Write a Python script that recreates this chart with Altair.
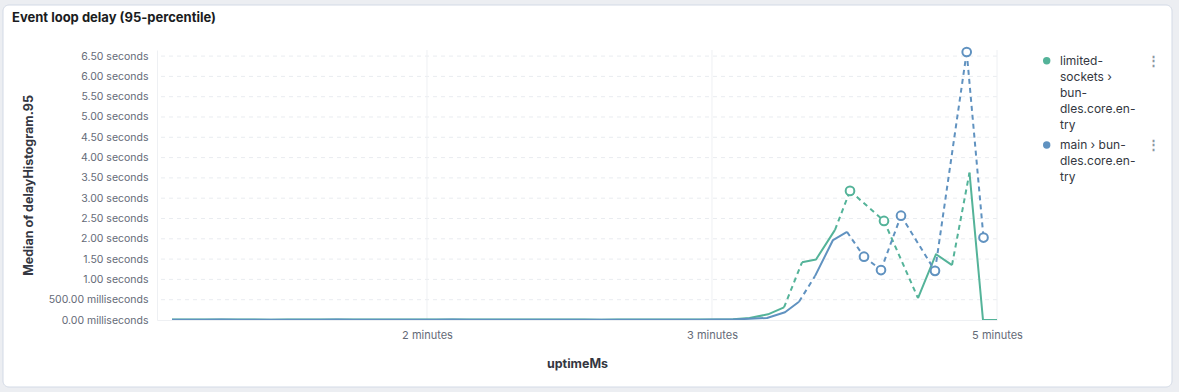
import altair as alt
import pandas as pd

# ---------------- data ----------------
series_names = ["limited-sockets › bundles.core.entry", "main › bundles.core.entry"]
series_colors = ["#54B399", "#6092C0"]

# uptimeMs of the early, almost flat buckets (shared by both series)
flat_x = [38420, 43052, 47684, 52316, 56948, 61580, 66212, 70844, 75476, 80108,
          84740, 89372, 94004, 98636, 103268, 107900, 112532, 117164, 121796, 126428,
          131060, 135692, 140324, 144956, 149588, 154220, 158852, 163484, 168116, 172748,
          177380, 182012, 186644, 191276, 195908, 200540]

green_flat_y = [0.010, 0.010, 0.010, 0.012, 0.010, 0.010, 0.008, 0.010, 0.010, 0.010,
                0.012, 0.010, 0.010, 0.010, 0.010, 0.010, 0.010, 0.012, 0.010, 0.010,
                0.010, 0.010, 0.010, 0.010, 0.010, 0.010, 0.008, 0.010, 0.010, 0.012,
                0.010, 0.010, 0.010, 0.015, 0.020, 0.050]
blue_flat_y = [0.008, 0.008, 0.008, 0.010, 0.008, 0.008, 0.008, 0.008, 0.008, 0.008,
               0.010, 0.008, 0.008, 0.008, 0.008, 0.008, 0.008, 0.010, 0.008, 0.008,
               0.008, 0.008, 0.008, 0.008, 0.008, 0.008, 0.006, 0.008, 0.008, 0.008,
               0.008, 0.008, 0.008, 0.010, 0.012, 0.030]

# later buckets (None = empty bucket -> dashed "fit" line)
green_late_x = [205719, 210210, 212736, 215263, 219192, 224526, 226631, 228736, 233508,
                238280, 243052, 247824, 252876, 257368, 259753, 262280, 266069, 270000]
green_late_y = [0.14, 0.31, None, 1.42, 1.49, 2.22, None, 3.18, None,
                2.44, None, 0.54, 1.62, 1.35, None, 3.63, 0.0, 0.0]

blue_late_x = [205438, 210491, 214420, 216666, 218912, 223964, 227894, 230280, 232666,
               235052, 237438, 240245, 243052, 247824, 252596, 257087, 261494, 263824, 266210]
blue_late_y = [0.05, 0.19, 0.45, None, 1.08, 1.97, 2.17, None, 1.56,
               None, 1.23, None, 2.57, None, 1.21, None, 6.60, None, 2.03]

green_x = flat_x + green_late_x
green_y = green_flat_y + green_late_y
blue_x = flat_x + blue_late_x
blue_y = blue_flat_y + blue_late_y

x_ticks = [110000, 190000, 270000]
y_ticks = [0, 0.5, 1, 1.5, 2, 2.5, 3, 3.5, 4, 4.5, 5, 5.5, 6, 6.5]
y_grid = [0.5, 1, 1.5, 2, 2.5, 3, 3.5, 4, 4.5, 5, 5.5, 6, 6.5]

legend_lines = [["limited-", "sockets ›", "bun-", "dles.core.en-", "try"],
                ["main › bun-", "dles.core.en-", "try"]]

# ---------------- build tables ----------------
def split_series(name, xs, ys):
    solid_rows, dash_rows, dot_rows = [], [], []
    runs, cur = [], []
    for xv, yv in zip(xs, ys):
        if yv is None:
            if cur:
                runs.append(cur)
                cur = []
        else:
            cur.append((xv, yv))
    if cur:
        runs.append(cur)
    for i, run in enumerate(runs):
        if len(run) > 1:
            for xv, yv in run:
                solid_rows.append({"series": name, "seg": f"s{i:02d}", "x": xv, "y": yv})
        else:
            dot_rows.append({"series": name, "x": run[0][0], "y": run[0][1]})
        if i + 1 < len(runs):
            for xv, yv in (run[-1], runs[i + 1][0]):
                dash_rows.append({"series": name, "seg": f"g{i:02d}", "x": xv, "y": yv})
    return pd.DataFrame(solid_rows), pd.DataFrame(dash_rows), pd.DataFrame(dot_rows)

W, H = 840, 270
x_scale = alt.Scale(domain=[34211, 270000], nice=False, zero=False)
y_scale = alt.Scale(domain=[0, 6.65], nice=False, zero=True)

label_grey = "#646a77"
x_axis = alt.Axis(values=x_ticks, labelExpr="round(datum.value/60000) + ' minutes'",
                  ticks=False, grid=False, domainColor="#eef0f3", labelColor=label_grey,
                  labelFontSize=11, labelPadding=9, labelFlush=False, title="uptimeMs",
                  titleFontSize=12.5, titleFontWeight="bold", titleColor="#343741",
                  titlePadding=17, zindex=1)
y_axis = alt.Axis(values=y_ticks,
                  labelExpr="datum.value < 1 ? format(datum.value*1000, '.2f') + ' milliseconds' : format(datum.value, '.2f') + ' seconds'",
                  ticks=False, grid=False, domainColor="#eef0f3", labelColor=label_grey,
                  labelFontSize=10.5, labelPadding=9, title="Median of delayHistogram.95",
                  titleFontSize=12.5, titleFontWeight="bold", titleColor="#343741",
                  titlePadding=13, zindex=1)

X = alt.X("x:Q", scale=x_scale, axis=x_axis)
Y = alt.Y("y:Q", scale=y_scale, axis=y_axis)

ghost = alt.Chart(pd.DataFrame({"a": [0]}))

card = ghost.mark_rect(fill="white", stroke="#d3dae6", strokeWidth=1, cornerRadius=6).encode(
    x=alt.value(-154), x2=alt.value(1015), y=alt.value(-45), y2=alt.value(337))

ygrid = alt.Chart(pd.DataFrame({"y": y_grid})).mark_rule(
    color="#e9ecf0", strokeWidth=1, strokeDash=[4, 4]).encode(y=Y)
xgrid = alt.Chart(pd.DataFrame({"x": x_ticks})).mark_rule(
    color="#eef0f3", strokeWidth=1).encode(x=X)

series_layers = []
for name, xs, ys, col in [(series_names[0], green_x, green_y, series_colors[0]),
                          (series_names[1], blue_x, blue_y, series_colors[1])]:
    s_df, d_df, p_df = split_series(name, xs, ys)
    series_layers.append(alt.Chart(s_df).mark_line(strokeWidth=2, strokeJoin="round", color=col).encode(
        x=X, y=Y, detail="seg:N", order="x:Q"))
    series_layers.append(alt.Chart(d_df).mark_line(strokeWidth=2, strokeDash=[5, 4], color=col).encode(
        x=X, y=Y, detail="seg:N", order="x:Q"))
    series_layers.append(alt.Chart(p_df).mark_point(shape="circle", filled=False, fill="white",
                                                    fillOpacity=1, opacity=1, size=75,
                                                    strokeWidth=2, stroke=col).encode(x=X, y=Y))

title = ghost.mark_text(text="Event loop delay (95-percentile)", align="left", baseline="middle",
                        fontSize=13, fontWeight="bold", color="#1a1c21").encode(
    x=alt.value(-145), y=alt.value(-32))

legend_layers = []
legend_y = [10.7, 95]
for i in range(2):
    legend_layers.append(ghost.mark_point(shape="circle", filled=True, size=55, opacity=1,
                                          color=series_colors[i]).encode(
        x=alt.value(889.7), y=alt.value(legend_y[i])))
    legend_layers.append(alt.Chart(pd.DataFrame({"label": [legend_lines[i]]})).mark_text(
        align="left", baseline="middle", fontSize=12, lineHeight=16, color="#343741").encode(
        text="label:N", x=alt.value(903), y=alt.value(legend_y[i])))
    legend_layers.append(ghost.mark_text(text="⋮", align="center", baseline="middle",
                                         fontSize=13, fontWeight="bold", color="#8d95a3").encode(
        x=alt.value(996), y=alt.value(legend_y[i])))

chart = alt.layer(card, ygrid, xgrid, *series_layers, title, *legend_layers).properties(
    width=W, height=H,
    autosize=alt.AutoSizeParams(type="none"),
    padding={"left": 157, "top": 50, "right": 182, "bottom": 72},
    background="#eceef2",
).configure(font="Inter").configure_view(strokeWidth=0)

chart.save("out.html", embed_options={"renderer": "svg", "actions": False})
